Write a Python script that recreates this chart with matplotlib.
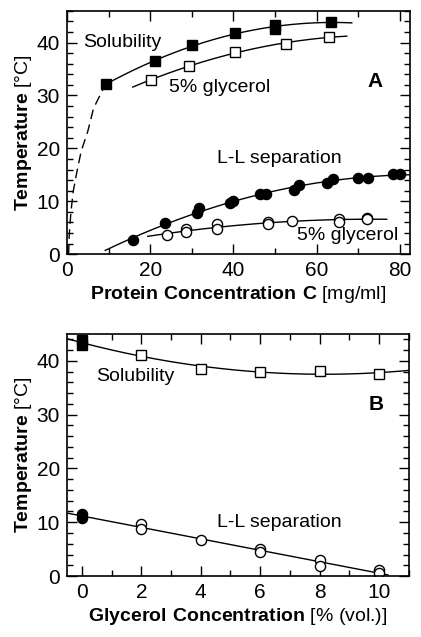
import numpy as np
import matplotlib
matplotlib.use("Agg")
from matplotlib import pyplot as plt
from matplotlib.ticker import MultipleLocator

plt.rcParams['font.family'] = ['Liberation Sans', 'DejaVu Sans']
plt.rcParams['mathtext.fontset'] = 'custom'
plt.rcParams['mathtext.rm'] = 'Liberation Sans'
plt.rcParams['mathtext.bf'] = 'Liberation Sans:bold'

# Panel A: solubility (filled squares) and 5% glycerol (open squares)
sol_c = [9.5, 21.2, 30.1, 40.4, 50.0, 50.0, 63.3]
sol_t = [32.2, 36.5, 39.5, 41.8, 43.3, 42.5, 43.9]
solg_c = [20.1, 29.4, 40.3, 52.7, 62.9]
solg_t = [32.9, 35.6, 38.2, 39.7, 41.1]

# Panel A: L-L separation (filled circles) and 5% glycerol (open circles)
ll_c = [15.8, 23.6, 31.2, 31.7, 39.2, 39.9, 46.3, 47.9, 54.6, 55.8, 62.5, 63.8, 70.0, 72.2, 78.2, 80.0]
ll_t = [2.65, 5.8, 7.7, 8.8, 9.7, 10.1, 11.3, 11.3, 12.2, 13.1, 13.5, 14.2, 14.4, 14.4, 15.1, 15.1]
llg_c = [24.1, 28.7, 28.7, 36.1, 36.1, 48.2, 48.2, 54.1, 65.4, 65.4, 72.0, 72.0]
llg_t = [3.7, 4.7, 4.2, 5.7, 4.7, 6.1, 5.7, 6.2, 6.6, 6.1, 6.9, 6.6]

# dashed extrapolation of the solubility line
dash_c = [0.4, 0.55, 0.96, 1.5, 2.4, 3.4, 5.0, 6.4, 7.8, 8.8]
dash_t = [0.0, 3.6, 8.0, 11.8, 15.6, 19.4, 23.2, 27.6, 29.8, 31.4]

# x ranges covered by the fitted curves
sol_range = (8.8, 68.4)
solg_range = (15.8, 67.2)
ll_range = (9.2, 82.4)
llg_range = (19.4, 76.8)

# Panel B: vs glycerol concentration
gly_sol_x = [2, 4, 6, 8, 10]
gly_sol_t = [41.1, 38.4, 38.0, 38.1, 37.5]
gly0_sol_t = [43.8, 43.0]
gly_ll_x = [2, 2, 4, 6, 6, 8, 8, 10, 10]
gly_ll_t = [9.7, 8.7, 6.7, 5.0, 4.4, 2.9, 1.9, 1.1, 0.5]
gly0_ll_t = [11.6, 10.8]
gly_sol_range = (-0.5, 11.0)
gly_ll_range = (-0.5, 10.3)

fig = plt.figure(figsize=(4.21, 6.37), dpi=100)
axA = fig.add_axes([0.159, 0.601, 0.815, 0.382])
axB = fig.add_axes([0.159, 0.0957, 0.812, 0.380])

line_kw = dict(color='black', lw=1.0)
sq_kw = dict(marker='s', ms=7.8, mec='black', mew=1.0, ls='none')
ci_kw = dict(marker='o', ms=7.3, mec='black', mew=1.0, ls='none')
fs = 14


def fit_curve(ax, x, y, xr, deg, **kw):
    p = np.polyfit(x, y, deg)
    xs = np.linspace(xr[0], xr[1], 200)
    ax.plot(xs, np.polyval(p, xs), **kw)


# --- Panel A ---
fit_curve(axA, sol_c, sol_t, sol_range, 2, **line_kw)
fit_curve(axA, solg_c, solg_t, solg_range, 2, **line_kw)
fit_curve(axA, ll_c, ll_t, ll_range, 2, **line_kw)
fit_curve(axA, llg_c, llg_t, llg_range, 2, **line_kw)
axA.plot(dash_c, dash_t, color='black', lw=1.0, ls=(0, (7, 4)))

axA.plot(sol_c, sol_t, mfc='black', **sq_kw)
axA.plot(solg_c, solg_t, mfc='white', **sq_kw)
axA.plot(ll_c, ll_t, mfc='black', **ci_kw)
axA.plot(llg_c, llg_t, mfc='white', **ci_kw)

axA.text(13.3, 40, 'Solubility', fontsize=fs, ha='center', va='center')
axA.text(36.7, 31.6, '5% glycerol', fontsize=fs, ha='center', va='center')
axA.text(74, 32.6, 'A', fontsize=15, fontweight='bold', ha='center', va='center')
axA.text(51.1, 18, 'L-L separation', fontsize=fs, ha='center', va='center')
axA.text(67.5, 3.6, '5% glycerol', fontsize=fs, ha='center', va='center')

axA.set_xlim(0, 82.4)
axA.set_ylim(0, 46)
axA.xaxis.set_major_locator(MultipleLocator(20))
axA.xaxis.set_minor_locator(MultipleLocator(10))
axA.set_xlabel(r'$\mathbf{Protein\ Concentration\ C}$ [mg/ml]', fontsize=fs, labelpad=3)

# --- Panel B ---
fit_curve(axB, [0, 0] + gly_sol_x, gly0_sol_t + gly_sol_t, gly_sol_range, 2, **line_kw)
fit_curve(axB, [0, 0] + gly_ll_x, gly0_ll_t + gly_ll_t, gly_ll_range, 1, **line_kw)

axB.plot([0, 0], gly0_sol_t, mfc='black', **sq_kw)
axB.plot(gly_sol_x, gly_sol_t, mfc='white', **sq_kw)
axB.plot([0, 0], gly0_ll_t, mfc='black', **ci_kw)
axB.plot(gly_ll_x, gly_ll_t, mfc='white', **ci_kw)

axB.text(1.79, 37.1, 'Solubility', fontsize=fs, ha='center', va='center')
axB.text(6.65, 9.9, 'L-L separation', fontsize=fs, ha='center', va='center')
axB.text(9.9, 31.9, 'B', fontsize=15, fontweight='bold', ha='center', va='center')

axB.set_xlim(-0.5, 11)
axB.set_ylim(0, 45)
axB.xaxis.set_major_locator(MultipleLocator(2))
axB.xaxis.set_minor_locator(MultipleLocator(1))
axB.set_xlabel(r'$\mathbf{Glycerol\ Concentration}$ [% (vol.)]', fontsize=fs, labelpad=3)

for ax in (axA, axB):
    ax.yaxis.set_major_locator(MultipleLocator(10))
    ax.yaxis.set_minor_locator(MultipleLocator(2))
    ax.tick_params(which='both', direction='in', top=True, right=True, labelsize=15, width=1.0)
    ax.tick_params(which='major', length=7, pad=5)
    ax.tick_params(which='minor', length=4)
    for s in ax.spines.values():
        s.set_linewidth(1.2)
    ax.set_ylabel(r'$\mathbf{Temperature}$ [°C]', fontsize=fs, labelpad=2)

fig.savefig('out.png', dpi=100)
